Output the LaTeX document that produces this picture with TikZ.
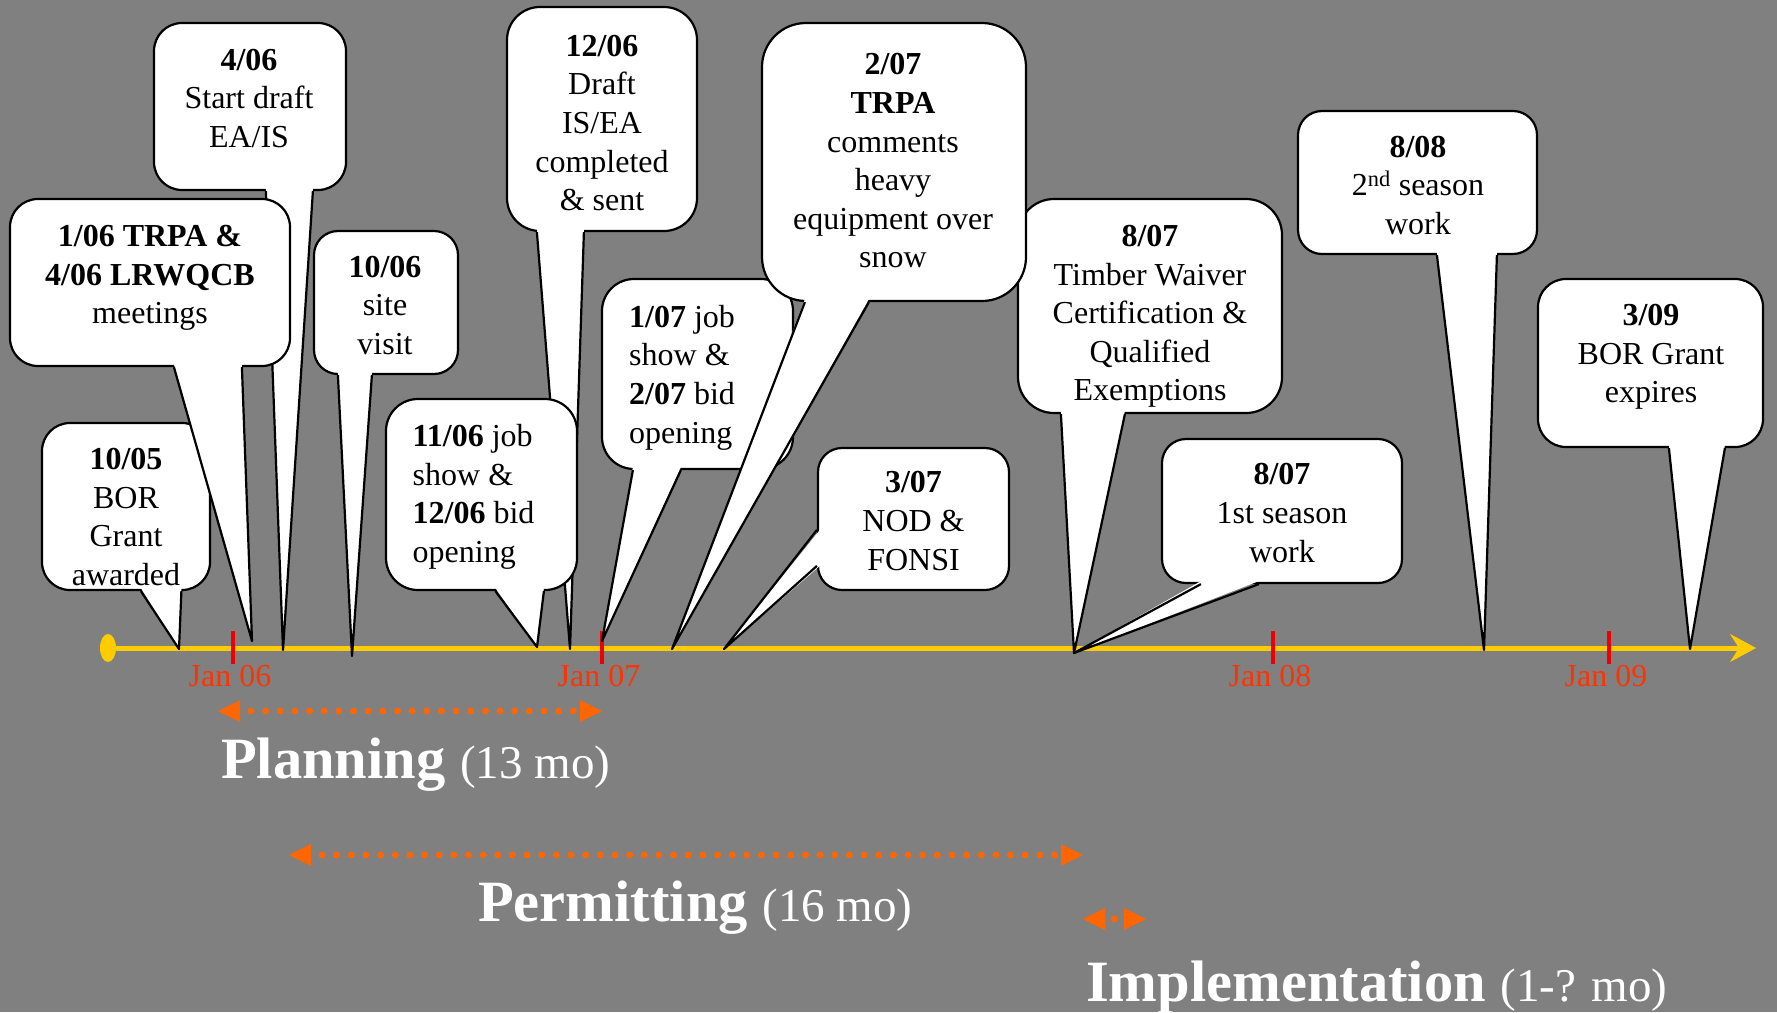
\documentclass[tikz,border=0pt]{standalone}
\usepackage{fontspec}
\setmainfont{Liberation Serif}
\usetikzlibrary{calc,arrows.meta,shapes.geometric}
\definecolor{bggray}{RGB}{128,128,128}
\definecolor{gold}{RGB}{255,204,0}
\definecolor{tickred}{RGB}{238,0,0}
\definecolor{lblred}{RGB}{255,51,0}
\definecolor{rangeor}{RGB}{255,102,0}
\newcommand\wedgedown[4]{%
  \fill[white] ($(#1.south west)+(#2,-3)$) -- (#4) -- ($(#1.south west)+(#3,-3)$) -- cycle;
  \draw[wedgeline] ($(#1.south west)+(#2,0)$) -- (#4) -- ($(#1.south west)+(#3,0)$);}
\newcommand\rangebar[2]{%
  \fill[rangeor] (#1) -- ($(#1)+(22,-11)$) -- ($(#1)+(22,11)$) -- cycle;
  \fill[rangeor] (#2) -- ($(#2)+(-22,-11)$) -- ($(#2)+(-22,11)$) -- cycle;}
\begin{document}
\begin{tikzpicture}[x=1pt,y=-1pt,
  callbox/.style={draw=black, fill=white, line width=2.2pt, rectangle, inner sep=0pt},
  wedgeline/.style={draw=black, line width=2.2pt, line join=round},
  txt/.style={font=\fontsize{32}{38.6}\selectfont, align=center, inner sep=0pt, text=black},
  txtl/.style={txt, align=left},
  ticklbl/.style={font=\fontsize{32}{36}\selectfont, text=lblred, inner sep=0pt},
  tickmark/.style={draw=tickred, line width=3.5pt},
  rangedots/.style={draw=rangeor, line width=7pt, line cap=round, dash pattern=on 0pt off 14.65pt},
  phase/.style={font=\fontsize{58.5}{62}\selectfont, text=white, inner sep=0pt}]
\fill[bggray] (0,0) rectangle (1777,1012);
\useasboundingbox (0,0) rectangle (1777,1012);

% timeline
\node[ellipse, fill=gold, minimum width=16pt, minimum height=28pt, inner sep=0pt] (tlS) at (108,648) {};
\coordinate (tlE) at (1756,648);
\draw[gold, line width=5pt, -{Stealth[length=26pt,width=28pt,inset=9pt,line width=0.5pt]}] (tlS.center) -- (tlE);
\foreach \x/\lab/\nm in {233/Jan 06/a, 602/Jan 07/b, 1273/Jan 08/c, 1609/Jan 09/d} {
  \draw[tickmark] (\x,631) -- (\x,664);
  \node[ticklbl, anchor=base] (lbl\nm) at (\x-3,686) {\lab};
}

% tips
\coordinate (pA) at (179,649);
\coordinate (pB) at (252,641);
\coordinate (pC) at (283,650);
\coordinate (pD) at (352,656);
\coordinate (pE) at (570,649);
\coordinate (pF) at (537,647);
\coordinate (pG) at (602,641);
\coordinate (pH) at (672,649);
\coordinate (pI) at (724,649);
\coordinate (pJ) at (1074,653);
\coordinate (pL) at (1484,650);
\coordinate (pM) at (1690,649);

% A 10/05
\node[callbox, minimum width=168pt, minimum height=167pt, rounded corners=28pt] (bA) at (126,506.5) {};
\wedgedown{bA}{100}{140.5}{pA}
\node[txt] (tA) at (126,517) {\textbf{10/05}\\BOR\\Grant\\awarded};

% C 4/06
\node[callbox, minimum width=192pt, minimum height=167pt, rounded corners=28pt] (bC) at (250,106.5) {};
\wedgedown{bC}{113}{160}{pC}
\node[txt] (tC) at (249,98.5) {\textbf{4/06}\\Start draft\\EA/IS};

% B 1/06
\node[callbox, minimum width=280pt, minimum height=167pt, rounded corners=28pt] (bB) at (150,282.5) {};
\wedgedown{bB}{165}{233}{pB}
\node[txt] (tB) at (150,278) {\textbf{1/06 TRPA \&}\\\textbf{4/06 LRWQCB}\\meetings};

% D 10/06
\node[callbox, minimum width=144pt, minimum height=143pt, rounded corners=24pt] (bD) at (386,302.5) {};
\wedgedown{bD}{25}{59}{pD}
\node[txt] (tD) at (385,305.5) {\textbf{10/06}\\site\\visit};

% E 12/06
\node[callbox, minimum width=190pt, minimum height=224pt, rounded corners=33pt] (bE) at (602,119) {};
\wedgedown{bE}{31}{78}{pE}
\node[txt] (tE) at (602,123) {\textbf{12/06}\\Draft\\IS/EA\\completed\\\& sent};

% F 11/06
\node[callbox, minimum width=191pt, minimum height=191pt, rounded corners=32pt] (bF) at (481.5,494.5) {};
\wedgedown{bF}{110.5}{159}{pF}
\node[txtl, anchor=west] (tF) at (412.5,497) {\textbf{11/06} job\\show \&\\\textbf{12/06} bid\\opening};

% G 1/07
\node[callbox, minimum width=191pt, minimum height=190pt, rounded corners=32pt] (bG) at (697.5,374) {};
\wedgedown{bG}{32}{80}{pG}
\node[txtl, anchor=west] (tG) at (629,377.5) {\textbf{1/07} job\\show \&\\\textbf{2/07} bid\\opening};

% J 8/07 Timber
\node[callbox, minimum width=264pt, minimum height=214pt, rounded corners=36pt] (bJ) at (1150,306) {};
\wedgedown{bJ}{44}{108}{pJ}
\node[txt] (tJ) at (1150,316.5) {\textbf{8/07}\\Timber Waiver\\Certification \&\\Qualified\\Exemptions};

% H 2/07
\node[callbox, minimum width=264pt, minimum height=278pt, rounded corners=44pt] (bH) at (894,162) {};
\wedgedown{bH}{44}{108}{pH}
\node[txt] (tH) at (893,161) {\textbf{2/07}\\\textbf{TRPA}\\comments\\heavy\\equipment over\\snow};

% I 3/07
\node[callbox, minimum width=191pt, minimum height=142pt, rounded corners=24pt] (bI) at (913.5,519) {};
\fill[white] ($(bI.north west)+(3,83)$) -- (pI) -- ($(bI.north west)+(3,119)$) -- cycle;
\draw[wedgeline] ($(bI.north west)+(0,83)$) -- (pI) -- ($(bI.north west)+(0,119)$);
\node[txt] (tI) at (913.5,521) {\textbf{3/07}\\NOD \&\\FONSI};

% K 8/07 1st season
\node[callbox, minimum width=240pt, minimum height=144pt, rounded corners=24pt] (bK) at (1282,511) {};
\wedgedown{bK}{40}{98}{pJ}
\node[txt] (tK) at (1282,513) {\textbf{8/07}\\1st season\\work};

% L 8/08
\node[callbox, minimum width=239pt, minimum height=143pt, rounded corners=24pt] (bL) at (1417.5,182.5) {};
\wedgedown{bL}{140}{200}{pL}
\node[txt] (tL) at (1418,185.5) {\textbf{8/08}\\2\textsuperscript{nd} season\\work};

% M 3/09
\node[callbox, minimum width=225pt, minimum height=168pt, rounded corners=28pt] (bM) at (1650.5,363) {};
\wedgedown{bM}{132}{188}{pM}
\node[txt] (tM) at (1651,357) {\textbf{3/09}\\BOR Grant\\expires};

% phase ranges
\coordinate (plS) at (218,711); \coordinate (plE) at (602,711);
\coordinate (peS) at (289,855); \coordinate (peE) at (1083,855);
\coordinate (imS) at (1083,919); \coordinate (imE) at (1146,919);
\rangebar{plS}{plE}
\draw[rangedots] ($(plS)+(33,0)$) -- ($(plE)+(-27,0)$);
\rangebar{peS}{peE}
\draw[rangedots] ($(peS)+(33,0)$) -- ($(peE)+(-27,0)$);
\rangebar{imS}{imE}
\fill[rangeor] ($(imS)!0.5!(imE)$) circle (3.5);

\node[phase, anchor=base west] (planlbl) at (221,778) {\textbf{Planning} {\fontsize{47}{50}\selectfont(13 mo)}};
\node[phase, anchor=base west] (permlbl) at (478,921) {\textbf{Permitting} {\fontsize{47}{50}\selectfont(16 mo)}};
\node[phase, anchor=base west] (impllbl) at (1086,1001) {\textbf{Implementation} {\fontsize{47}{50}\selectfont(1-? mo)}};
\end{tikzpicture}
\end{document}
